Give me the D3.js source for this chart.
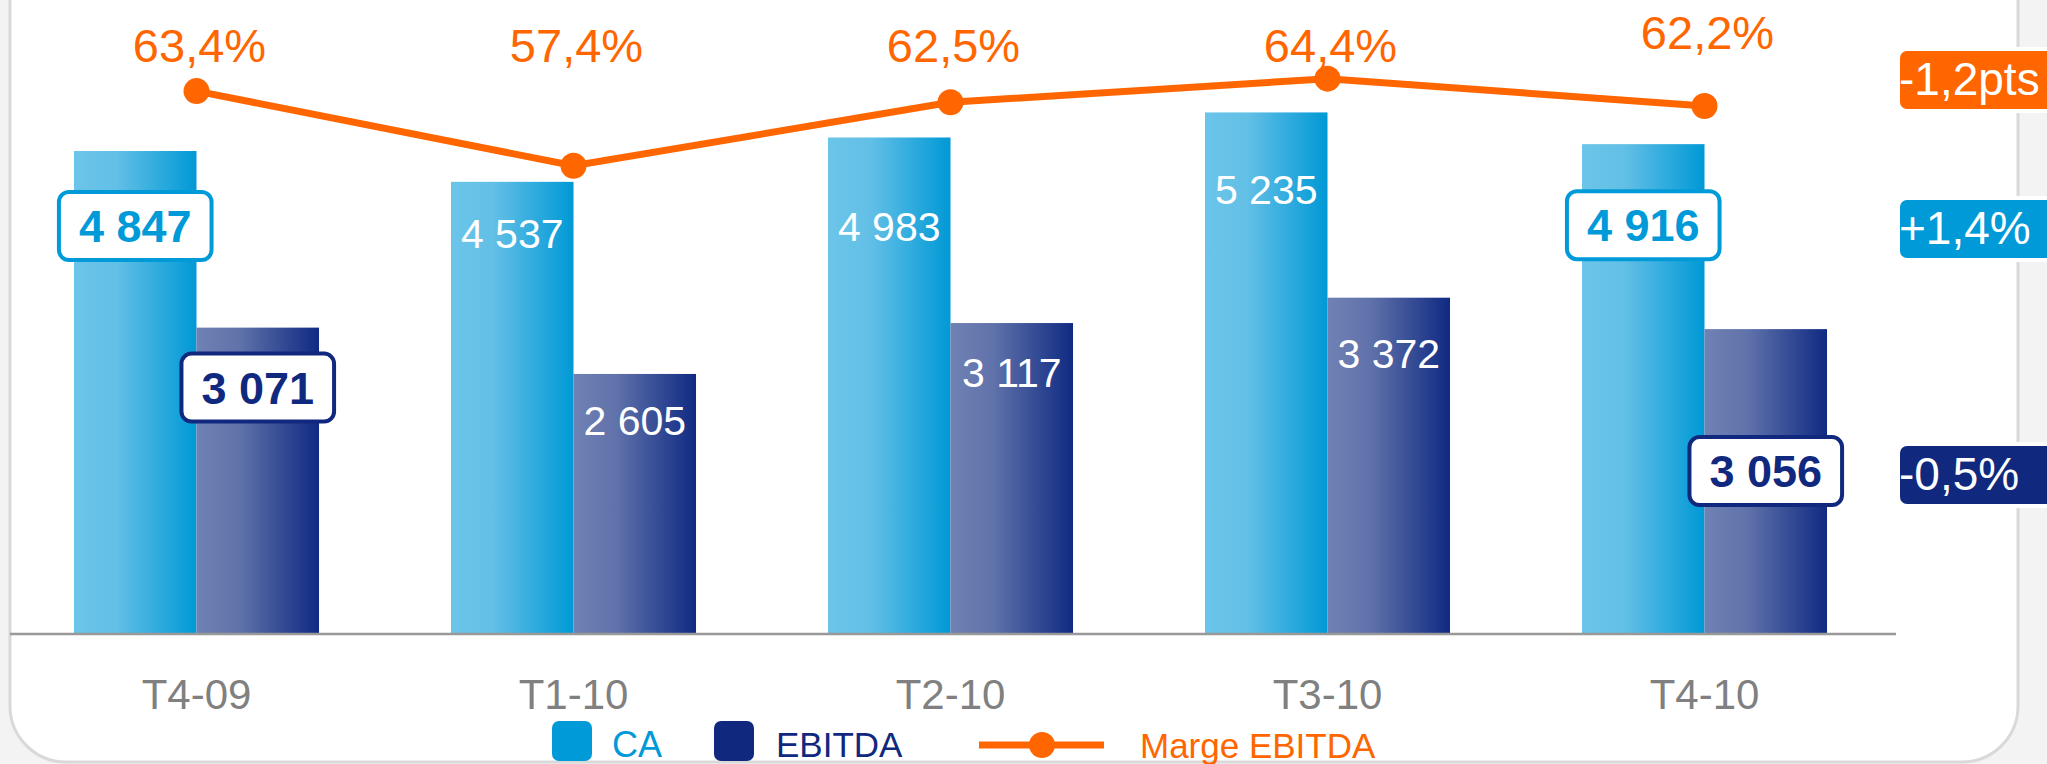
<!DOCTYPE html>
<html>
<head>
<meta charset="utf-8">
<script src="https://cdn.jsdelivr.net/npm/d3@7"></script>
<style>
  html, body { margin: 0; padding: 0; background: #f3f3f3; }
  svg { display: block; font-family: "Liberation Sans", Arial, sans-serif; }
</style>
</head>
<body>
<div id="wrapper"></div>
<script>
const quarters = ["T4-09", "T1-10", "T2-10", "T3-10", "T4-10"];
const caValues = [4847, 4537, 4983, 5235, 4916];
const ebitdaValues = [3071, 2605, 3117, 3372, 3056];
const margeValues = [63.4, 57.4, 62.5, 64.4, 62.2];
const margeLabels = ["63,4%", "57,4%", "62,5%", "64,4%", "62,2%"];
const caLabels = ["4 847", "4 537", "4 983", "5 235", "4 916"];
const ebitdaLabels = ["3 071", "2 605", "3 117", "3 372", "3 056"];
const boxedIdx = [0, 4];
const deltaLabels = ["-1,2pts", "+1,4%", "-0,5%"];

// labels were dragged by hand in the original, keep their offset below the bar top
const caLabelDy = [91, 66, 104, 92, 97];
const ebitdaLabelDy = [76, 61, 64, 70, 158];
const margeLabelLift = [0, 0, 0, 0, 13];

const orange = "#ff6600";
const blue = "#009ad8";
const navy = "#10297f";

const dimensions = {
    width: 2047,
    height: 764,
    baseline: 633,
}

const svg = d3.select("#wrapper")
    .append("svg")
    .attr("width", dimensions.width)
    .attr("height", dimensions.height);

const defs = svg.append("defs");
const gradCA = defs.append("linearGradient").attr("id", "gradCA");
gradCA.append("stop").attr("offset", "0%").attr("stop-color", "#6cc5e9");
gradCA.append("stop").attr("offset", "35%").attr("stop-color", "#62bfe6");
gradCA.append("stop").attr("offset", "100%").attr("stop-color", "#0099d6");
const gradEB = defs.append("linearGradient").attr("id", "gradEB");
gradEB.append("stop").attr("offset", "0%").attr("stop-color", "#7081b4");
gradEB.append("stop").attr("offset", "35%").attr("stop-color", "#6072aa");
gradEB.append("stop").attr("offset", "100%").attr("stop-color", "#0f2a82");

// panel
svg.append("rect")
    .attr("width", dimensions.width)
    .attr("height", dimensions.height)
    .attr("fill", "#f3f3f3");
svg.append("rect")
    .attr("x", 10)
    .attr("y", -80)
    .attr("width", 2008)
    .attr("height", 842)
    .attr("rx", 56)
    .attr("fill", "white")
    .attr("stroke", "#d9d9d9")
    .attr("stroke-width", 3);

const xScaler = d3.scaleBand()
    .domain(quarters)
    .range([8, 1893])
    .paddingInner(0.35)
    .paddingOuter(0.175);

const xSub = d3.scaleBand()
    .domain(["CA", "EBITDA"])
    .range([0, xScaler.bandwidth()]);

const yScaler = d3.scaleLinear()
    .domain([0, 6000])
    .range([dimensions.baseline, dimensions.baseline - 6000 * 0.09944]);

const yMarge = d3.scaleLinear()
    .domain([50, 70])
    .range([257.8, 9.0]);

const center = q => xScaler(q) + xScaler.bandwidth() / 2;

const bounds = svg.append("g");

const series = [
    { key: "CA", values: caValues, labels: caLabels, dy: caLabelDy, grad: "url(#gradCA)", color: blue },
    { key: "EBITDA", values: ebitdaValues, labels: ebitdaLabels, dy: ebitdaLabelDy, grad: "url(#gradEB)", color: navy },
];

series.forEach(s => {
    bounds.append("g").selectAll("rect")
        .data(quarters)
        .enter()
        .append("rect")
        .attr("x", q => xScaler(q) + xSub(s.key))
        .attr("y", (q, i) => yScaler(s.values[i]))
        .attr("width", xSub.bandwidth())
        .attr("height", (q, i) => dimensions.baseline - yScaler(s.values[i]))
        .attr("fill", s.grad);
});

// x axis
const xAxis = bounds.append("g")
    .attr("transform", `translate(0,${dimensions.baseline})`)
    .call(d3.axisBottom(xScaler).tickSize(0).tickPadding(76));
xAxis.select(".domain").remove();
xAxis.selectAll("text")
    .attr("font-size", "42px")
    .attr("font-family", "Liberation Sans, Arial, sans-serif")
    .attr("fill", "#808080")
    .attr("dy", 0);
bounds.append("line")
    .attr("x1", 10)
    .attr("x2", 1896)
    .attr("y1", dimensions.baseline + 1)
    .attr("y2", dimensions.baseline + 1)
    .attr("stroke", "#999")
    .attr("stroke-width", 2.5);

// bar value labels
series.forEach(s => {
    quarters.forEach((q, i) => {
        const cx = xScaler(q) + xSub(s.key) + xSub.bandwidth() / 2;
        const y = yScaler(s.values[i]) + s.dy[i];
        if (boxedIdx.includes(i)) {
            const g = bounds.append("g");
            const t = g.append("text")
                .attr("x", cx)
                .attr("y", y)
                .attr("text-anchor", "middle")
                .attr("font-size", "45px")
                .attr("font-weight", "bold")
                .attr("fill", s.color)
                .text(s.labels[i]);
            const w = t.node().getComputedTextLength() + 40;
            g.insert("rect", "text")
                .attr("x", cx - w / 2)
                .attr("y", y - 50)
                .attr("width", w)
                .attr("height", 68)
                .attr("rx", 10)
                .attr("fill", "white")
                .attr("stroke", s.color)
                .attr("stroke-width", 4);
        } else {
            bounds.append("text")
                .attr("x", cx)
                .attr("y", y)
                .attr("text-anchor", "middle")
                .attr("font-size", "41px")
                .attr("fill", "white")
                .text(s.labels[i]);
        }
    });
});

// marge line
const lineGen = d3.line()
    .x((d, i) => center(quarters[i]))
    .y(d => yMarge(d));
bounds.append("path")
    .datum(margeValues)
    .attr("d", lineGen)
    .attr("fill", "none")
    .attr("stroke", orange)
    .attr("stroke-width", 7);
bounds.append("g").selectAll("circle")
    .data(margeValues)
    .enter()
    .append("circle")
    .attr("cx", (d, i) => center(quarters[i]))
    .attr("cy", d => yMarge(d))
    .attr("r", 13)
    .attr("fill", orange);
bounds.append("g").selectAll("text")
    .data(margeLabels)
    .enter()
    .append("text")
    .attr("x", (d, i) => center(quarters[i]) + 3)
    .attr("y", (d, i) => 62 - margeLabelLift[i])
    .attr("text-anchor", "middle")
    .attr("font-size", "47px")
    .attr("fill", orange)
    .text(d => d);

// variation badges
const badgeColors = [orange, blue, navy];
const badgeY = [49, 198, 444];
deltaLabels.forEach((lbl, i) => {
    svg.append("rect")
        .attr("x", 1898)
        .attr("y", badgeY[i])
        .attr("width", 180)
        .attr("height", 62)
        .attr("rx", 9)
        .attr("fill", badgeColors[i])
        .attr("stroke", "white")
        .attr("stroke-width", 4);
    svg.append("text")
        .attr("x", 1899)
        .attr("y", badgeY[i] + 46)
        .attr("font-size", "46px")
        .attr("fill", "white")
        .text(lbl);
});

// legend
const legend = svg.append("g");
legend.append("rect").attr("x", 552).attr("y", 721).attr("width", 40).attr("height", 40).attr("rx", 7).attr("fill", blue);
legend.append("text").attr("x", 612).attr("y", 757).attr("font-size", "36px").attr("fill", blue).text("CA");
legend.append("rect").attr("x", 714).attr("y", 721).attr("width", 40).attr("height", 40).attr("rx", 7).attr("fill", navy);
legend.append("text").attr("x", 776).attr("y", 757).attr("font-size", "35px").attr("fill", navy).text("EBITDA");
legend.append("line").attr("x1", 979).attr("x2", 1104).attr("y1", 745).attr("y2", 745).attr("stroke", orange).attr("stroke-width", 7);
legend.append("circle").attr("cx", 1042).attr("cy", 745).attr("r", 13).attr("fill", orange);
legend.append("text").attr("x", 1140).attr("y", 758).attr("font-size", "35px").attr("fill", orange).text("Marge EBITDA");
</script>
</body>
</html>
